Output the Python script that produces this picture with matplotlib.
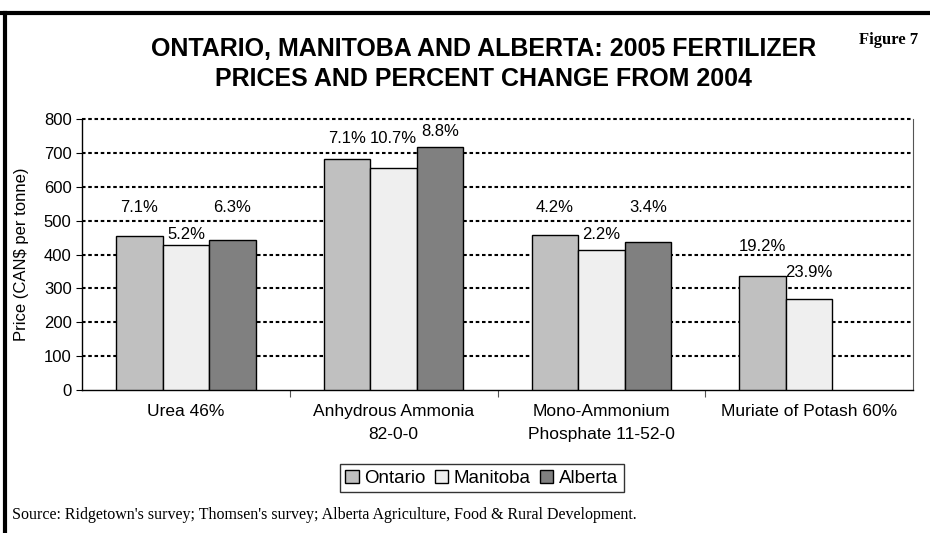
import matplotlib.pyplot as plt
import numpy as np
from matplotlib.lines import Line2D

# Datos del grafico
categorias = ['Urea 46%', 'Anhydrous Ammonia\n82-0-0', 'Mono-Ammonium\nPhosphate 11-52-0',
              'Muriate of Potash 60%']
provincias = ['Ontario', 'Manitoba', 'Alberta']
precios_ontario = [455, 681, 458, 337]
precios_manitoba = [428, 655, 413, 268]
precios_alberta = [444, 718, 436, None]
cambio_ontario = ['7.1%', '7.1%', '4.2%', '19.2%']
cambio_manitoba = ['5.2%', '10.7%', '2.2%', '23.9%']
cambio_alberta = ['6.3%', '8.8%', '3.4%', None]

# altura (en unidades del eje) donde se colocan las etiquetas de porcentaje
alt_ontario = [540, 743, 540, 425]
alt_manitoba = [460, 743, 460, 348]
alt_alberta = [540, 764, 540, None]

colores = ['#C0C0C0', '#EFEFEF', '#808080']

plt.rcParams['font.family'] = ['Liberation Sans', 'DejaVu Sans']

fig = plt.figure(figsize=(9.3, 5.33), dpi=100)
ax = fig.add_axes([0.0882, 0.2683, 0.8935, 0.5084])

x = np.arange(len(categorias))
ancho = 0.224
series = [precios_ontario, precios_manitoba, precios_alberta]
etiquetas = [cambio_ontario, cambio_manitoba, cambio_alberta]
alturas = [alt_ontario, alt_manitoba, alt_alberta]

for i, (vals, nombre) in enumerate(zip(series, provincias)):
    xs = [xi + (i - 1) * ancho for xi, v in zip(x, vals) if v is not None]
    ys = [v for v in vals if v is not None]
    ax.bar(xs, ys, width=ancho, color=colores[i], edgecolor='black', linewidth=1.0,
           label=nombre, zorder=3)
    for xi, txt, h in zip(x, etiquetas[i], alturas[i]):
        if txt is not None:
            ax.text(xi + (i - 1) * ancho, h, txt, ha='center', va='center', fontsize=12)

ax.set_xlim(-0.5, len(categorias) - 0.5)
ax.set_ylim(0, 800)
ax.set_yticks(range(0, 801, 100))
ax.tick_params(axis='y', labelsize=12, length=4, width=0.8, direction='out')

# lineas de cuadricula punteadas (sin la de 0)
for v in range(100, 801, 100):
    ax.axhline(v, color='black', linestyle=(0, (1.7, 1.3)), linewidth=1.5, zorder=0,
               clip_on=False)

# ticks de categorias en los limites
ax.set_xticks(x)
ax.set_xticklabels(categorias, fontsize=12.5, linespacing=1.65)
ax.tick_params(axis='x', length=0, pad=10)
ax.set_xticks(np.arange(0.5, len(categorias) - 0.5, 1), minor=True)
ax.tick_params(axis='x', which='minor', length=5, width=0.8, direction='out', color='#555555')

ax.spines['top'].set_visible(False)
ax.spines['right'].set_color('#555555')
ax.spines['left'].set_linewidth(1.0)
ax.spines['bottom'].set_linewidth(1.0)

ax.set_ylabel('Price (CAN$ per tonne)', fontsize=12)
ax.yaxis.set_label_coords(-0.064, 0.5)

fig.text(0.52, 0.88, 'ONTARIO, MANITOBA AND ALBERTA: 2005 FERTILIZER\nPRICES AND PERCENT CHANGE FROM 2004',
         ha='center', va='center', fontsize=18, fontweight='bold', linespacing=1.35)
fig.text(0.987, 0.925, 'Figure 7', ha='right', va='center', fontsize=12, fontweight='bold',
         family='Liberation Serif')

leg = fig.legend(loc='center', bbox_to_anchor=(0.518, 0.103), ncol=3, fontsize=13.5,
                 frameon=True, fancybox=False, edgecolor='black', handlelength=0.7,
                 handleheight=0.7, handletextpad=0.3, columnspacing=0.5, borderpad=0.3)
leg.get_frame().set_linewidth(1.0)

fig.text(0.013, 0.034, "Source: Ridgetown's survey; Thomsen's survey; Alberta Agriculture, Food & Rural Development.",
         ha='left', va='center', fontsize=11.5, family='Liberation Serif')

# marco del documento
fig.add_artist(Line2D([0, 1], [0.9765, 0.9765], color='black', linewidth=3, transform=fig.transFigure))
fig.add_artist(Line2D([0.0055, 0.0055], [0, 0.9765], color='black', linewidth=3, transform=fig.transFigure))

plt.savefig('out.png', dpi=100)
